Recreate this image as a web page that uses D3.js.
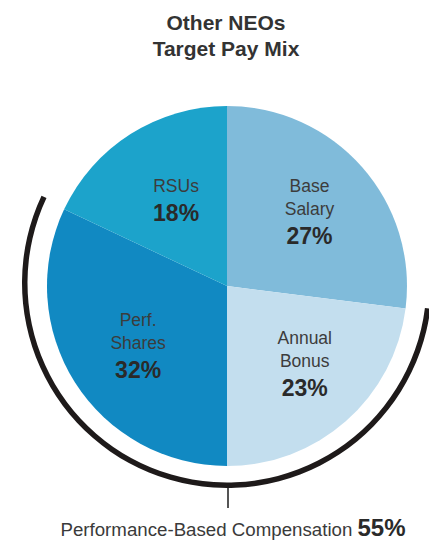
<!DOCTYPE html>
<html>
<head>
<meta charset="utf-8">
<script src="https://cdn.jsdelivr.net/npm/d3@7"></script>
<style>
  html, body { margin: 0; padding: 0; background: #fff; }
  svg { display: block; font-family: "Liberation Sans", Arial, sans-serif; }
</style>
</head>
<body>
<div id="chart"></div>
<script>
// pie data, clockwise from 12 o'clock
const categories = ['Base\nSalary', 'Annual\nBonus', 'Perf.\nShares', 'RSUs'];
const values = [27, 23, 32, 18];
const colors = ['#80bbda', '#c3deee', '#1189c2', '#1ca3cb'];
const performanceBased = ['Annual\nBonus', 'Perf.\nShares'];
const titleLines = ['Other NEOs', 'Target Pay Mix'];
const footerLabel = 'Performance-Based Compensation';

const width = 429;
const height = 544;
const cx = 227, cy = 286;
const radius = 180;

const svg = d3.select('#chart')
  .append('svg')
  .attr('width', width)
  .attr('height', height);

// Title
svg.append('g')
  .selectAll('text')
  .data(titleLines)
  .enter()
  .append('text')
  .attr('x', 226)
  .attr('y', (d, i) => 30 + i * 26)
  .attr('text-anchor', 'middle')
  .attr('font-size', 21)
  .attr('font-weight', 'bold')
  .attr('fill', '#333')
  .text(d => d);

const pieData = categories.map((c, i) => ({ label: c, value: values[i], color: colors[i] }));
const pie = d3.pie().sort(null).value(d => d.value);
const arcs = pie(pieData);

const arc = d3.arc().innerRadius(0).outerRadius(radius);
const labelArc = d3.arc().innerRadius(110).outerRadius(110);

const g = svg.append('g').attr('transform', `translate(${cx},${cy})`);

g.selectAll('path.slice')
  .data(arcs)
  .enter()
  .append('path')
  .attr('class', 'slice')
  .attr('d', arc)
  .attr('fill', d => d.data.color);

// small hand tweaks to match the original label placement
const nudge = { 'Annual\nBonus': [5, -4], 'Perf.\nShares': [4, 2], 'RSUs': [8, 8] };

const labels = g.selectAll('g.label')
  .data(arcs)
  .enter()
  .append('g')
  .attr('class', 'label')
  .attr('transform', d => {
    const c = labelArc.centroid(d);
    const n = nudge[d.data.label] || [0, 0];
    return `translate(${c[0] + n[0]},${c[1] + n[1]})`;
  });

labels.each(function(d) {
  const lines = d.data.label.split('\n');
  const el = d3.select(this);
  const lh = 23;
  const total = lines.length * lh + 28;
  let y = -total / 2 + 16;
  lines.forEach(line => {
    el.append('text')
      .attr('y', y)
      .attr('text-anchor', 'middle')
      .attr('font-size', 17.5)
      .attr('fill', '#3c3c3c')
      .text(line);
    y += lh;
  });
  el.append('text')
    .attr('y', y + 6)
    .attr('text-anchor', 'middle')
    .attr('font-size', 23)
    .attr('font-weight', 'bold')
    .attr('fill', '#2a2a2a')
    .text(d.data.value + '%');
});

// performance-based bracket
const perfArcs = arcs.filter(d => performanceBased.includes(d.data.label));
const start = d3.min(perfArcs, d => d.startAngle);
const end = d3.max(perfArcs, d => d.endAngle);
const perfTotal = d3.sum(perfArcs, d => d.value);

const bracket = svg.append('g').attr('transform', `translate(${cx},${cy - 3})`);
bracket.append('path')
  .attr('d', d3.arc().innerRadius(199.5).outerRadius(205).startAngle(start).endAngle(end)())
  .attr('fill', '#1e1a1a');

// tick hangs straight down from the bottom of the bracket
bracket.append('line')
  .attr('x1', 1)
  .attr('y1', 205)
  .attr('x2', 1)
  .attr('y2', 225)
  .attr('stroke', '#555')
  .attr('stroke-width', 2);

const footer = svg.append('text')
  .attr('x', 233)
  .attr('y', 536)
  .attr('text-anchor', 'middle')
  .attr('fill', '#3a3a3a');
footer.append('tspan')
  .attr('font-size', 18.7)
  .text(footerLabel + ' ');
footer.append('tspan')
  .attr('font-size', 24)
  .attr('font-weight', 'bold')
  .attr('fill', '#2a2a2a')
  .text(perfTotal + '%');
</script>
</body>
</html>
